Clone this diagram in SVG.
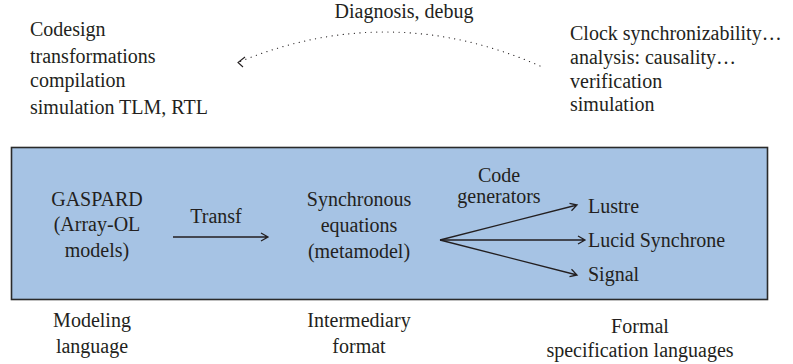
<svg xmlns="http://www.w3.org/2000/svg" width="793" height="364" viewBox="0 0 793 364">
<rect id="frame" x="11.5" y="147.5" width="756" height="152" fill="#a6c3e4" stroke="#2a2a2a" stroke-width="1.6"/>
<g id="left-notes">
<text x="30" y="36" font-family="Liberation Serif" font-size="20" fill="#231f20">Codesign</text>
<text x="30" y="63" font-family="Liberation Serif" font-size="20" fill="#231f20">transformations</text>
<text x="30" y="87" font-family="Liberation Serif" font-size="20" fill="#231f20">compilation</text>
<text x="30" y="114" font-family="Liberation Serif" font-size="20" fill="#231f20">simulation TLM, RTL</text>
</g>
<g id="right-notes">
<text x="570" y="40" font-family="Liberation Serif" font-size="20" fill="#231f20">Clock synchronizability…</text>
<text x="570" y="64" font-family="Liberation Serif" font-size="20" fill="#231f20">analysis: causality…</text>
<text x="570" y="88" font-family="Liberation Serif" font-size="20" fill="#231f20">verification</text>
<text x="570" y="111" font-family="Liberation Serif" font-size="20" fill="#231f20">simulation</text>
</g>
<g id="gaspard">
<text x="97" y="206" font-family="Liberation Serif" font-size="20" fill="#231f20" text-anchor="middle">GASPARD</text>
<text x="97" y="231" font-family="Liberation Serif" font-size="20" fill="#231f20" text-anchor="middle">(Array-OL</text>
<text x="97" y="257" font-family="Liberation Serif" font-size="20" fill="#231f20" text-anchor="middle">models)</text>
</g>
<g id="synchronous">
<text x="359" y="206" font-family="Liberation Serif" font-size="20" fill="#231f20" text-anchor="middle">Synchronous</text>
<text x="359" y="232" font-family="Liberation Serif" font-size="20" fill="#231f20" text-anchor="middle">equations</text>
<text x="359" y="258" font-family="Liberation Serif" font-size="20" fill="#231f20" text-anchor="middle">(metamodel)</text>
</g>
<g id="lustre"><text x="588" y="213" font-family="Liberation Serif" font-size="20" fill="#231f20">Lustre</text></g>
<g id="lucid"><text x="588" y="247" font-family="Liberation Serif" font-size="20" fill="#231f20">Lucid Synchrone</text></g>
<g id="signal"><text x="588" y="281" font-family="Liberation Serif" font-size="20" fill="#231f20">Signal</text></g>
<g id="labels">
<text x="92" y="327" font-family="Liberation Serif" font-size="20" fill="#231f20" text-anchor="middle">Modeling</text>
<text x="92" y="353" font-family="Liberation Serif" font-size="20" fill="#231f20" text-anchor="middle">language</text>
<text x="359" y="327" font-family="Liberation Serif" font-size="20" fill="#231f20" text-anchor="middle">Intermediary</text>
<text x="359" y="353" font-family="Liberation Serif" font-size="20" fill="#231f20" text-anchor="middle">format</text>
<text x="640" y="333" font-family="Liberation Serif" font-size="20" fill="#231f20" text-anchor="middle">Formal</text>
<text x="640" y="357" font-family="Liberation Serif" font-size="20" fill="#231f20" text-anchor="middle">specification languages</text>
</g>
<g id="connectors" stroke="#231f20" stroke-width="1.3" fill="none">
<path d="M173,237 L268,237 M261,233 L268,237 L261,241"/>
<path d="M440,240 L577,205 M569.5,203.3 L577,205 L571.5,210.8"/>
<path d="M440,240 L585,240 M578,236 L585,240 L578,244"/>
<path d="M440,240 L577,275 M571.5,269.2 L577,275 L569.5,276.7"/>
<path d="M540,66 Q390,0 239,62" stroke-width="1.2" stroke-dasharray="0.1 5.5" stroke-linecap="round"/>
<path d="M245,57 L238,62.5 L243,67" stroke-width="1.1"/>
<text x="216" y="223" font-family="Liberation Serif" font-size="20" fill="#231f20" stroke="none" text-anchor="middle">Transf</text>
<text x="499" y="182" font-family="Liberation Serif" font-size="20" fill="#231f20" stroke="none" text-anchor="middle">Code</text>
<text x="499" y="203" font-family="Liberation Serif" font-size="20" fill="#231f20" stroke="none" text-anchor="middle">generators</text>
<text x="404" y="18" font-family="Liberation Serif" font-size="20" fill="#231f20" stroke="none" text-anchor="middle">Diagnosis, debug</text>
</g>
</svg>
